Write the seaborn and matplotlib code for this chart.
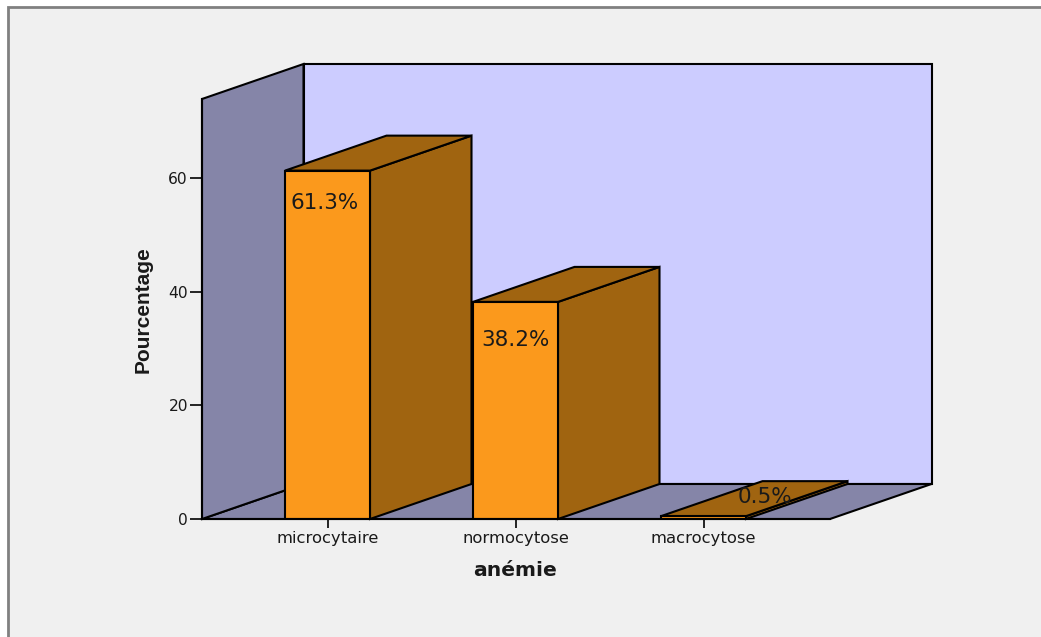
import matplotlib
matplotlib.use("Agg")
import matplotlib.pyplot as plt
import pandas as pd
import seaborn as sns
from matplotlib.patches import Polygon, Rectangle

# Data
categories = ["microcytaire", "normocytose", "macrocytose"]
percentages = [61.3, 38.2, 0.5]
value_labels = ["61.3%", "38.2%", "0.5%"]
y_ticks = [0, 20, 40, 60]
x_title = "anémie"
y_title = "Pourcentage"

# Colours
FRONT = "#fb991c"
SIDE = "#a06410"
BACK_WALL = "#ccccff"
SIDE_WALL = "#8585a8"
PANEL = "#f0f0f0"
FRAME = "#808080"
INK = "#1a1a1a"

# Layout, in output pixels
W, H = 1041, 637
AX_LEFT, AX_RIGHT, AX_TOP, AX_BOTTOM = 202, 931, 65, 519
PX_PER_CAT = 188.0
PX_PER_UNIT = 5.683
FIRST_CENTER = 327.5
FRONT_RIGHT = 830
WALL_TOP_FRONT = 99

DX = 101.5 / PX_PER_CAT  # oblique depth along x, category units
DY = 35 / PX_PER_UNIT    # oblique depth along y, percent units
BAR_WIDTH = 85 / PX_PER_CAT
EDGE = 1.5

sns.set_theme(style="white")
plt.rcParams["font.family"] = ["DejaVu Sans"]

fig = plt.figure(figsize=(W / 100, H / 100), dpi=100, facecolor="white")
fig.patches.append(Rectangle((8 / W, -0.02), 1.1, (637 - 7) / H + 0.02,
                             transform=fig.transFigure, facecolor=PANEL,
                             edgecolor=FRAME, linewidth=2.0, figure=fig, zorder=-1))

ax = fig.add_axes([AX_LEFT / W, 1 - AX_BOTTOM / H,
                   (AX_RIGHT - AX_LEFT) / W, (AX_BOTTOM - AX_TOP) / H])
ax.patch.set_alpha(0)

frame = pd.DataFrame({"anemie": categories, "pct": percentages})
sns.barplot(data=frame, x="anemie", y="pct", color=FRONT, saturation=1,
            width=BAR_WIDTH, edgecolor="black", linewidth=EDGE, ax=ax, zorder=3)

x0 = (AX_LEFT - FIRST_CENTER) / PX_PER_CAT
x1 = (FRONT_RIGHT - FIRST_CENTER) / PX_PER_CAT
ymax_front = (AX_BOTTOM - WALL_TOP_FRONT) / PX_PER_UNIT
ax.set_xlim(x0, (AX_RIGHT - FIRST_CENTER) / PX_PER_CAT)
ax.set_ylim(0, (AX_BOTTOM - AX_TOP) / PX_PER_UNIT)


def face(points, color, zorder):
    ax.add_patch(Polygon(points, closed=True, facecolor=color, edgecolor="black",
                         linewidth=EDGE, joinstyle="miter", clip_on=False,
                         zorder=zorder))


# Chart box: back wall, floor and left wall
face([(x0 + DX, DY), (x1 + DX, DY), (x1 + DX, ymax_front + DY), (x0 + DX, ymax_front + DY)],
     BACK_WALL, 0.5)
face([(x0, 0), (x1, 0), (x1 + DX, DY), (x0 + DX, DY)], SIDE_WALL, 0.6)
face([(x0, 0), (x0 + DX, DY), (x0 + DX, ymax_front + DY), (x0, ymax_front)], SIDE_WALL, 0.7)

# Depth faces of each bar, derived from its value
half = BAR_WIDTH / 2
for i, v in enumerate(percentages):
    face([(i + half, 0), (i + half + DX, DY), (i + half + DX, v + DY), (i + half, v)], SIDE, 2)
    face([(i - half, v), (i + half, v), (i + half + DX, v + DY), (i - half + DX, v + DY)], SIDE, 2.1)

# Value labels: inside the front of tall bars, on the top face of flat ones
label_offsets = [(-2.5, -32), (0, -38), (61, 19)]
for i, (v, text, off) in enumerate(zip(percentages, value_labels, label_offsets)):
    ax.annotate(text, xy=(i, v), xytext=(off[0] * 0.72, off[1] * 0.72),
                textcoords="offset points", ha="center", va="center",
                fontsize=15.5, color=INK, zorder=5, annotation_clip=False)

# Axes
for side in ("top", "right"):
    ax.spines[side].set_visible(False)
ax.spines["left"].set_bounds(0, ymax_front)
ax.spines["bottom"].set_bounds(x0, x1)
for side in ("left", "bottom"):
    ax.spines[side].set_linewidth(EDGE)
    ax.spines[side].set_color("black")
    ax.spines[side].set_zorder(4)

ax.set_yticks(y_ticks)
ax.tick_params(axis="y", left=True, length=8.6, width=1.2, pad=1.5,
               labelsize=11.2, labelcolor=INK, color="black")
ax.tick_params(axis="x", bottom=True, length=6.5, width=1.2, pad=2,
               labelsize=11.8, labelcolor=INK, color="black")

ax.set_xlabel(x_title, fontsize=14.6, fontweight="bold", color=INK, va="center")
ax.xaxis.set_label_coords((515 - AX_LEFT) / (AX_RIGHT - AX_LEFT),
                          -(570 - AX_BOTTOM) / (AX_BOTTOM - AX_TOP))
ax.set_ylabel(y_title, fontsize=15.0, fontweight="bold", color=INK, va="center",
              family="Liberation Sans")
ax.yaxis.set_label_coords((143 - AX_LEFT) / (AX_RIGHT - AX_LEFT),
                          (AX_BOTTOM - 310) / (AX_BOTTOM - AX_TOP))

fig.savefig("out.png", dpi=100, facecolor=fig.get_facecolor())
